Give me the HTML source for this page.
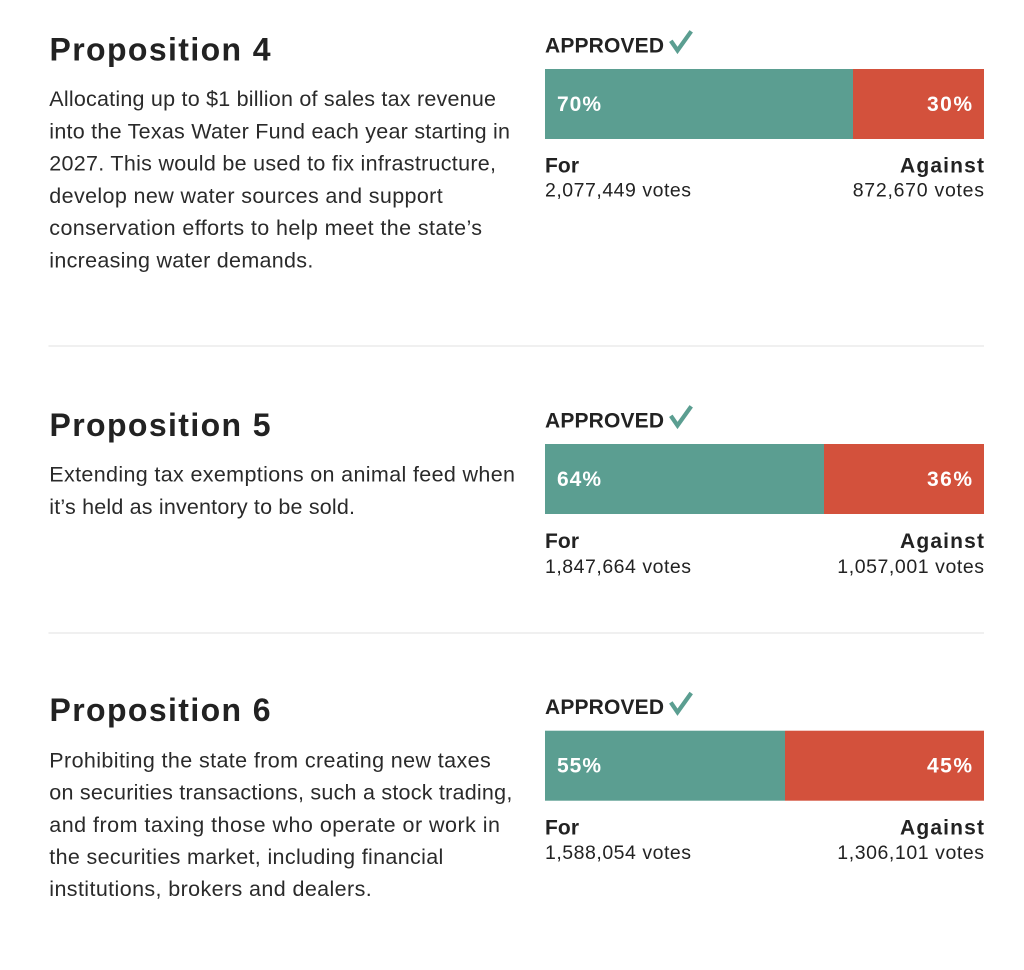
<!DOCTYPE html>
<html>
<head>
<meta charset="utf-8">
<style>
  html, body { margin: 0; padding: 0; background: #ffffff; }
  body { width: 1024px; height: 970px; overflow: hidden; }
  svg { display: block; }
  .t { font-family: "Liberation Sans", Arial, sans-serif; font-weight: bold; font-size: 32px; fill: #222222; }
  .b { font-family: "Liberation Sans", Arial, sans-serif; font-size: 21.5px; fill: #2a2a2a; }
  .ap { font-family: "Liberation Sans", Arial, sans-serif; font-weight: bold; font-size: 21px; fill: #222222; }
  .pc { font-family: "Liberation Sans", Arial, sans-serif; font-weight: bold; font-size: 21px; fill: #ffffff; }
  .lb { font-family: "Liberation Sans", Arial, sans-serif; font-weight: bold; font-size: 21px; fill: #222222; }
  .v { font-family: "Liberation Sans", Arial, sans-serif; font-size: 19.5px; fill: #222222; }
</style>
</head>
<body>
<svg width="1024" height="970" viewBox="0 0 1024 970" xmlns="http://www.w3.org/2000/svg">
  <rect x="0" y="0" width="1024" height="970" fill="#ffffff"/>

  <!-- separators -->
  <rect x="48.5" y="345.5" width="935.5" height="1" fill="#e0e0e0"/>
  <rect x="48.5" y="632.5" width="935.5" height="1" fill="#e0e0e0"/>

  <!-- ===== Proposition 4 ===== -->
  <text class="t" x="49.5" y="60.7" textLength="221" lengthAdjust="spacing">Proposition 4</text>
  <text class="b" x="49.3" y="106" textLength="446.7" lengthAdjust="spacing">Allocating up to $1 billion of sales tax revenue</text>
  <text class="b" x="49.3" y="138.3" textLength="460.7" lengthAdjust="spacing">into the Texas Water Fund each year starting in</text>
  <text class="b" x="49.3" y="170.6" textLength="446.7" lengthAdjust="spacing">2027. This would be used to fix infrastructure,</text>
  <text class="b" x="49.3" y="202.9" textLength="393.4" lengthAdjust="spacing">develop new water sources and support</text>
  <text class="b" x="49.3" y="235.2" textLength="432.7" lengthAdjust="spacing">conservation efforts to help meet the state’s</text>
  <text class="b" x="49.3" y="267.5" textLength="264" lengthAdjust="spacing">increasing water demands.</text>

  <text class="ap" x="545" y="52.3" textLength="119" lengthAdjust="spacing">APPROVED</text>
  <polyline points="672,42.5 677.5,50.5 690,33" fill="none" stroke="#5b9e91" stroke-width="4.2" stroke-linecap="square" stroke-linejoin="miter"/>
  <rect x="545" y="69" width="308" height="70" fill="#5b9e91"/>
  <rect x="853" y="69" width="131" height="70" fill="#d3513c"/>
  <text class="pc" x="557" y="111" textLength="44" lengthAdjust="spacing">70%</text>
  <text class="pc" x="972" y="111" text-anchor="end" textLength="45" lengthAdjust="spacing">30%</text>
  <text class="lb" x="545" y="172.7" textLength="34" lengthAdjust="spacing">For</text>
  <text class="lb" x="984" y="172.7" text-anchor="end" textLength="84" lengthAdjust="spacing">Against</text>
  <text class="v" x="545" y="196.7" textLength="146" lengthAdjust="spacing">2,077,449 votes</text>
  <text class="v" x="984" y="196.7" text-anchor="end" textLength="131.3" lengthAdjust="spacing">872,670 votes</text>

  <!-- ===== Proposition 5 ===== -->
  <text class="t" x="49.5" y="436" textLength="221" lengthAdjust="spacing">Proposition 5</text>
  <text class="b" x="49.3" y="481.7" textLength="465.7" lengthAdjust="spacing">Extending tax exemptions on animal feed when</text>
  <text class="b" x="49.3" y="513.9" textLength="305.7" lengthAdjust="spacing">it’s held as inventory to be sold.</text>

  <text class="ap" x="545" y="427.3" textLength="119" lengthAdjust="spacing">APPROVED</text>
  <polyline points="672,417.5 677.5,425.5 690,408" fill="none" stroke="#5b9e91" stroke-width="4.2" stroke-linecap="square" stroke-linejoin="miter"/>
  <rect x="545" y="444" width="279" height="70" fill="#5b9e91"/>
  <rect x="824" y="444" width="160" height="70" fill="#d3513c"/>
  <text class="pc" x="557" y="486" textLength="44" lengthAdjust="spacing">64%</text>
  <text class="pc" x="972" y="486" text-anchor="end" textLength="45" lengthAdjust="spacing">36%</text>
  <text class="lb" x="545" y="548" textLength="34" lengthAdjust="spacing">For</text>
  <text class="lb" x="984" y="548" text-anchor="end" textLength="84" lengthAdjust="spacing">Against</text>
  <text class="v" x="545" y="573" textLength="146" lengthAdjust="spacing">1,847,664 votes</text>
  <text class="v" x="984" y="573" text-anchor="end" textLength="146.7" lengthAdjust="spacing">1,057,001 votes</text>

  <!-- ===== Proposition 6 ===== -->
  <text class="t" x="49.5" y="721" textLength="221" lengthAdjust="spacing">Proposition 6</text>
  <text class="b" x="49.3" y="767.3" textLength="441.4" lengthAdjust="spacing">Prohibiting the state from creating new taxes</text>
  <text class="b" x="49.3" y="799.6" textLength="463" lengthAdjust="spacing">on securities transactions, such a stock trading,</text>
  <text class="b" x="49.3" y="831.8" textLength="450.7" lengthAdjust="spacing">and from taxing those who operate or work in</text>
  <text class="b" x="49.3" y="864" textLength="394" lengthAdjust="spacing">the securities market, including financial</text>
  <text class="b" x="49.3" y="896.2" textLength="322.4" lengthAdjust="spacing">institutions, brokers and dealers.</text>

  <text class="ap" x="545" y="714" textLength="119" lengthAdjust="spacing">APPROVED</text>
  <polyline points="672,704.2 677.5,712.2 690,694.7" fill="none" stroke="#5b9e91" stroke-width="4.2" stroke-linecap="square" stroke-linejoin="miter"/>
  <rect x="545" y="730.7" width="240" height="70" fill="#5b9e91"/>
  <rect x="785" y="730.7" width="199" height="70" fill="#d3513c"/>
  <text class="pc" x="557" y="772.5" textLength="44" lengthAdjust="spacing">55%</text>
  <text class="pc" x="972" y="772.5" text-anchor="end" textLength="45" lengthAdjust="spacing">45%</text>
  <text class="lb" x="545" y="834.3" textLength="34" lengthAdjust="spacing">For</text>
  <text class="lb" x="984" y="834.3" text-anchor="end" textLength="84" lengthAdjust="spacing">Against</text>
  <text class="v" x="545" y="859" textLength="146" lengthAdjust="spacing">1,588,054 votes</text>
  <text class="v" x="984" y="859" text-anchor="end" textLength="146.7" lengthAdjust="spacing">1,306,101 votes</text>
</svg>
</body>
</html>
